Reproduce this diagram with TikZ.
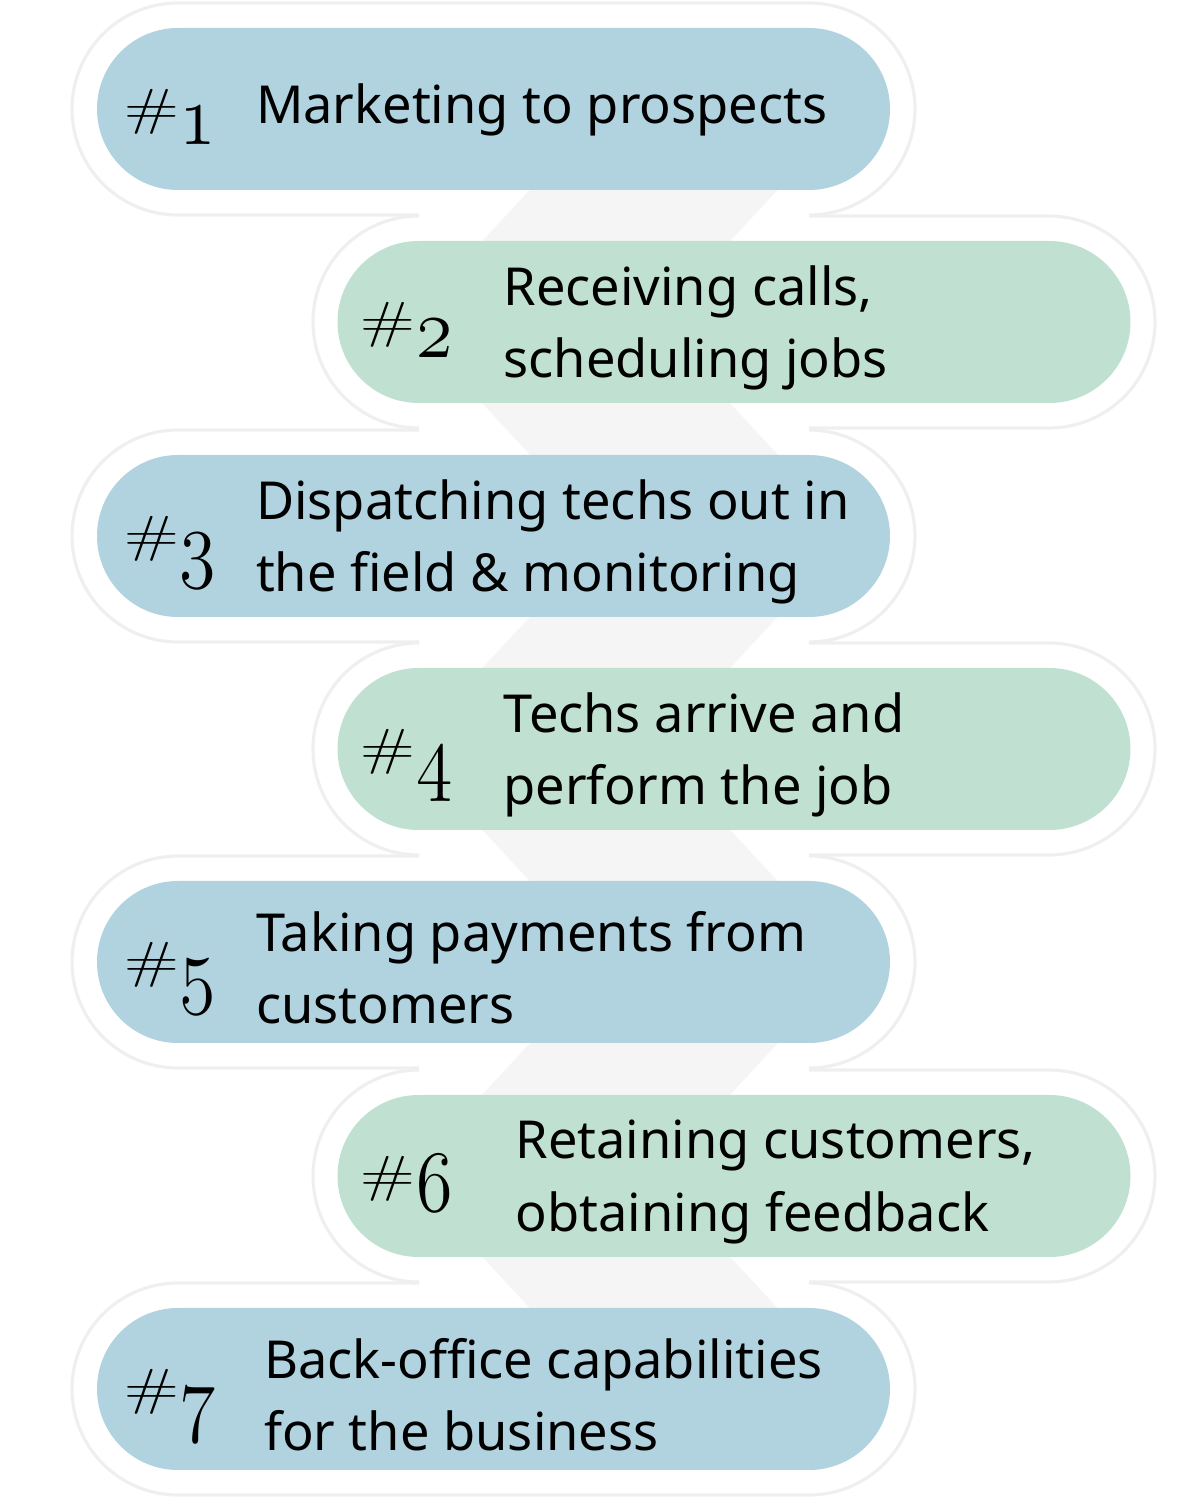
\documentclass[tikz,border=0pt]{standalone}
\usepackage{fontspec}
\usepackage{graphicx}
\usepackage{tikz}
\usetikzlibrary{shapes.misc,positioning}

\newfontfamily\stepfont{Noto Sans}
\newcommand{\numtag}[1]{\raisebox{0.20cm}{\scalebox{1.12}[0.8]{\fontsize{18}{18}\selectfont\#}}\kern0.01cm\scalebox{0.85}[1]{\usefont{OML}{lmm}{b}{it}\fontsize{29}{29}\selectfont #1}}

\definecolor{pillblue}{HTML}{B0D3DF}
\definecolor{pillgreen}{HTML}{C0E1D2}
\definecolor{halogray}{HTML}{EFEFEF}
\definecolor{bandgray}{HTML}{F5F5F5}

\begin{document}
\begin{tikzpicture}[
    pill/.style={rounded rectangle, minimum width=7.93cm, minimum height=1.62cm, inner sep=0pt},
    stepnum/.style={inner sep=0pt, anchor=base west},
    steptext/.style={inner sep=0pt, anchor=west, align=left, font=\stepfont\fontsize{14.9}{20.5}\selectfont},
    halo/.style={draw=halogray, line width=0.9pt}
  ]

        \useasboundingbox (0,0) rectangle (12,15);

        % zigzag band behind the steps
        \fill[bandgray] (6.05,13.91) -- (4.07,11.78) -- (6.05,9.64) -- (4.07,7.51) -- (6.05,5.38) -- (4.07,3.24) -- (6.05,1.11)
            -- (8.53,1.11) -- (6.55,3.24) -- (8.53,5.38) -- (6.55,7.51) -- (8.53,9.64) -- (6.55,11.78) -- (8.53,13.91) -- cycle;

        % halos round the left steps
        \draw[halo] (8.09,14.97) -- (1.78,14.97) arc (90:270:1.06) -- (4.19,12.85);
        \draw[halo] (8.09,14.97) arc (90:-90:1.06);
        \draw[halo] (4.19,10.70) -- (1.78,10.70) arc (90:270:1.06) -- (4.19,8.58);
        \draw[halo] (8.09,10.70) arc (90:-90:1.06);
        \draw[halo] (4.19,6.44) -- (1.78,6.44) arc (90:270:1.06) -- (4.19,4.32);
        \draw[halo] (8.09,6.44) arc (90:-90:1.06);
        \draw[halo] (4.19,2.17) -- (1.78,2.17) arc (90:270:1.06) -- (8.09,0.05) arc (-90:90:1.06);

        % halos round the right steps
        \draw[halo] (4.19,12.84) arc (90:270:1.06);
        \draw[halo] (8.09,12.84) -- (10.49,12.84) arc (90:-90:1.06) -- (8.09,10.72);
        \draw[halo] (4.19,8.57) arc (90:270:1.06);
        \draw[halo] (8.09,8.57) -- (10.49,8.57) arc (90:-90:1.06) -- (8.09,6.45);
        \draw[halo] (4.19,4.30) arc (90:270:1.06);
        \draw[halo] (8.09,4.30) -- (10.49,4.30) arc (90:-90:1.06) -- (8.09,2.18);

        % steps
        \node[pill, fill=pillblue] (s1) at (4.935,13.91) {};
        \node[pill, fill=pillgreen] (s2) at (7.34,11.78) {};
        \node[pill, fill=pillblue] (s3) at (4.935,9.64) {};
        \node[pill, fill=pillgreen] (s4) at (7.34,7.51) {};
        \node[pill, fill=pillblue] (s5) at (4.935,5.38) {};
        \node[pill, fill=pillgreen] (s6) at (7.34,3.24) {};
        \node[pill, fill=pillblue] (s7) at (4.935,1.11) {};

        \node[stepnum] (n1) at ([xshift=0.27cm,yshift=-0.36cm]s1.west) {\numtag{1}};
        \node[stepnum] (n2) at ([xshift=0.23cm,yshift=-0.36cm]s2.west) {\numtag{2}};
        \node[stepnum] (n3) at ([xshift=0.27cm,yshift=-0.36cm]s3.west) {\numtag{3}};
        \node[stepnum] (n4) at ([xshift=0.23cm,yshift=-0.36cm]s4.west) {\numtag{4}};
        \node[stepnum] (n5) at ([xshift=0.27cm,yshift=-0.36cm]s5.west) {\numtag{5}};
        \node[stepnum] (n6) at ([xshift=0.23cm,yshift=-0.36cm]s6.west) {\numtag{6}};
        \node[stepnum] (n7) at ([xshift=0.27cm,yshift=-0.36cm]s7.west) {\numtag{7}};

        \node[steptext] (t1) at ([xshift=1.59cm,yshift=-0.01cm]s1.west) {Marketing to prospects};
        \node[steptext] (t2) at ([xshift=1.66cm,yshift=-0.06cm]s2.west) {Receiving calls,\\scheduling jobs};
        \node[steptext] (t3) at ([xshift=1.59cm,yshift=-0.06cm]s3.west) {Dispatching techs out in\\the field \& monitoring};
        \node[steptext] (t4) at ([xshift=1.66cm,yshift=-0.06cm]s4.west) {Techs arrive and\\perform the job};
        \node[steptext] (t5) at ([xshift=1.59cm,yshift=-0.06cm]s5.west) {Taking payments from\\customers};
        \node[steptext] (t6) at ([xshift=1.78cm,yshift=-0.06cm]s6.west) {Retaining customers,\\obtaining feedback};
        \node[steptext] (t7) at ([xshift=1.67cm,yshift=-0.06cm]s7.west) {Back-office capabilities\\for the business};

    \end{tikzpicture}
\end{document}
